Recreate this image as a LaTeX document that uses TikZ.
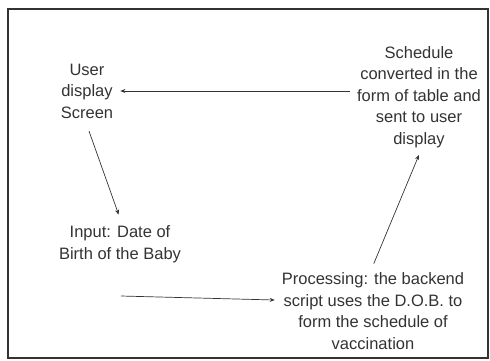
\documentclass[tikz,border=0pt]{standalone}
\usepackage{fontspec}
\setmainfont{Liberation Sans}
\usetikzlibrary{arrows.meta}
\definecolor{inkgray}{HTML}{333333}
\tikzset{
  stagebox/.style={align=center,text=inkgray,font=\fontsize{16.5}{21.5}\selectfont,inner sep=7pt},
  flow/.style={-{Stealth[length=5pt,width=4pt]},draw=inkgray,line width=0.7pt}
}
\begin{document}
\begin{tikzpicture}[x=1pt,y=-1pt]
            \useasboundingbox (0,0) rectangle (490,360);
            \draw[inkgray,line width=2pt] (8,9) rectangle (488,358);
            \node[stagebox] (screen) at (87,91) {User\\display\\Screen};
            \node[stagebox] (input) at (120,244) {Input: Date of\\Birth of the Baby};
            \node[stagebox] (proc) at (373,311) {Processing: the backend\\script uses the D.O.B. to\\form the schedule of\\vaccination};
            \node[stagebox] (sched) at (419,97) {Schedule\\converted in the\\form of table and\\sent to user\\display};
            \coordinate (inputfoot) at (121,296);
            \draw[flow] (sched.west |- screen.east) -- (screen.east);
            \draw[flow,shorten <=6pt,shorten >=4pt] (screen.south) -- (input.north);
            \draw[flow] (inputfoot) -- ([yshift=11pt]proc.west);
            \draw[flow,shorten <=2pt] (proc.north) -- (sched.south);
            \end{tikzpicture}
\end{document}
